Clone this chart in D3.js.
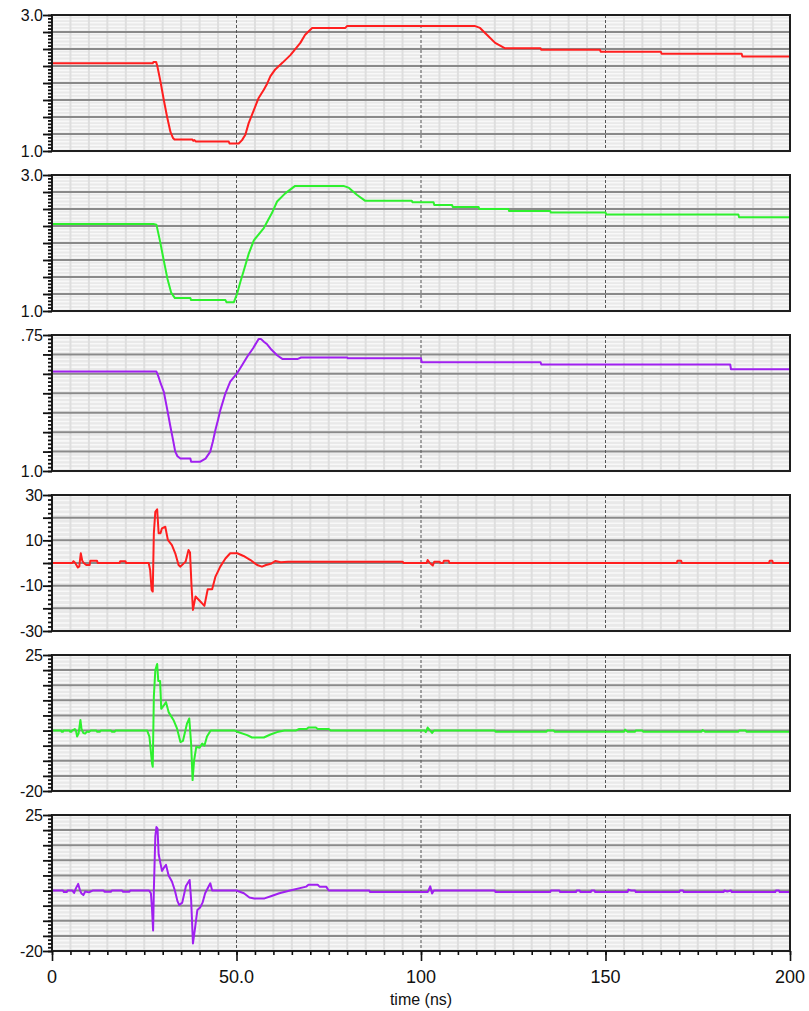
<!DOCTYPE html>
<html><head><meta charset="utf-8">
<script src="https://cdn.jsdelivr.net/npm/d3@7"></script>
<style>html,body{margin:0;padding:0;background:#fff;}svg{display:block;}</style>
</head><body>
<svg id="chart" width="809" height="1011"></svg>
<script>
// ---------- DATA ----------
const timeTicks = [0, 50, 100, 150, 200];
const timeTickLabels = ["0", "50.0", "100", "150", "200"];
const xAxisTitle = "time (ns)";

const panel1Red = [[0,2.29],[27.3,2.29],[27.5,2.31],[28.2,2.31],[28.5,2.26],[29.4,2.02],[30.3,1.75],[31.2,1.50],[32.1,1.28],[32.8,1.19],[33.2,1.17],[38.0,1.17],[38.3,1.15],[38.6,1.16],[39,1.14],[47.9,1.14],[48.1,1.11],[50.6,1.11],[51.5,1.16],[52.4,1.24],[53.3,1.41],[54.7,1.60],[56.0,1.78],[57.4,1.90],[58.3,1.99],[59.2,2.10],[60.5,2.20],[62.5,2.30],[64.6,2.41],[67.3,2.59],[68.6,2.71],[70.5,2.81],[79.5,2.81],[80,2.84],[114.5,2.84],[116,2.81],[118.2,2.69],[120.1,2.59],[122.8,2.51],[132.4,2.51],[132.6,2.49],[148.5,2.49],[148.7,2.46],[165,2.46],[165.2,2.43],[186.9,2.43],[187.1,2.39],[200,2.39]];

const panel2Green = [[0,2.28],[27.5,2.28],[28.3,2.27],[29.3,2.02],[30.3,1.74],[31.3,1.47],[32.3,1.27],[33.3,1.19],[37.5,1.19],[37.7,1.16],[47.0,1.16],[47.3,1.13],[49.3,1.13],[50.2,1.26],[51.0,1.42],[52.0,1.60],[53.3,1.84],[54.7,2.04],[57.4,2.22],[58.5,2.33],[59.6,2.44],[61.0,2.61],[63.2,2.73],[65.9,2.84],[79,2.84],[80.5,2.81],[82.6,2.71],[84.9,2.62],[97.5,2.62],[97.7,2.60],[103.4,2.60],[103.6,2.56],[108.4,2.56],[108.6,2.53],[115.6,2.53],[115.8,2.50],[123.7,2.50],[123.9,2.47],[135,2.47],[135.2,2.45],[150,2.45],[150.2,2.42],[186,2.42],[186.2,2.38],[200,2.38]];

const panel3Purple = [[0,2.28],[28.3,2.28],[28.8,2.22],[29.5,2.12],[30.3,2.02],[31.2,1.80],[32.1,1.57],[32.8,1.40],[33.4,1.25],[34.0,1.19],[34.8,1.16],[37.5,1.16],[37.7,1.12],[40.2,1.12],[41.6,1.16],[42.9,1.25],[43.6,1.38],[44.3,1.53],[45.0,1.66],[45.6,1.78],[47.0,2.0],[48.3,2.15],[50.2,2.26],[51.5,2.36],[52.9,2.47],[54.5,2.58],[56.0,2.70],[56.6,2.70],[57.5,2.66],[58.3,2.63],[59.5,2.56],[61.0,2.49],[62.5,2.44],[66.5,2.44],[67.5,2.46],[80,2.46],[80.2,2.45],[100,2.45],[100.2,2.40],[132.4,2.40],[132.6,2.37],[183.8,2.37],[184,2.31],[200,2.31]];

const panel4Red = [[0,0],[5.5,0],[5.8,0.8],[6.3,0],[7.0,-2],[7.4,-1.5],[7.8,4.3],[8.2,1],[8.6,0],[9.3,-0.9],[10.2,-0.9],[10.4,1],[12.2,1],[12.4,0],[18.3,0],[18.5,0.8],[19.9,0.8],[20.1,0],[26.2,0],[26.6,-3.1],[27.0,-11.9],[27.3,-12.6],[27.6,13.1],[28.0,22.6],[28.5,23.7],[28.9,13.1],[29.4,13.1],[29.8,15.3],[30.7,16.0],[31.4,10.2],[32.5,7.9],[33.4,4.3],[34.3,-0.9],[34.8,-1.6],[36.2,0.6],[37.0,5.7],[37.4,4.6],[37.8,-9.7],[38.2,-20.7],[38.9,-14.8],[40.2,-17],[41.3,-18.9],[42.2,-11.6],[43.4,-11.6],[44.3,-6],[45.6,-1.6],[47.0,2],[48.3,4.3],[50.2,4.3],[51.9,3.1],[53.8,1.3],[55.6,-0.9],[56.9,-1.6],[58.0,-0.9],[59.5,-0.2],[60.5,0.9],[62,0.3],[64,0.6],[95,0.6],[95.3,0],[101.5,0],[101.8,1.3],[102.4,0],[103.2,-1.1],[103.6,0.6],[105,0.6],[105.3,0],[106,0],[106.2,1],[107.5,1],[107.7,0],[169.3,0],[169.5,1],[170.5,1],[170.7,0],[194.3,0],[194.5,1],[195.2,1],[195.4,0],[200,0]];

const panel5Green = [[0,0],[2.5,0],[2.6,-0.4],[3,-0.4],[3.1,0],[4.8,0],[4.9,-0.4],[5.3,-0.4],[5.4,0],[6.2,0.5],[6.5,0],[6.8,-2],[7.2,-1],[7.7,3.5],[8,0.5],[8.5,-0.8],[9,-1],[9.5,-0.3],[10,-0.5],[10.5,0],[12,0],[12.2,-0.4],[13,-0.4],[13.2,0],[16,0],[16.2,-0.4],[17,-0.4],[17.2,0],[25.8,0],[26.4,-2],[27.1,-10.8],[27.3,-12],[27.6,11.2],[28.0,20],[28.5,22],[28.8,16.4],[29.3,16.4],[29.6,7.2],[30.3,8.3],[30.9,9.4],[31.6,6.1],[33,3.3],[33.9,0.6],[34.8,-3.8],[35.5,-3.4],[36.6,2.4],[37.2,4],[37.7,-4.3],[38.1,-16.4],[38.5,-10],[39.1,-5.4],[40,-5.7],[40.7,-4.3],[41.3,-5],[42,-2],[43,0],[49.5,0],[50,-0.3],[52.9,-1.5],[54.2,-2.3],[57.4,-2.3],[59.2,-1.3],[61,-0.5],[63,0],[66,0],[67,0.5],[69,0.5],[69.5,1],[71.5,1],[72,0.5],[75,0.5],[75.5,0],[101,0],[101.3,-0.5],[101.8,1],[102.5,0],[103,-0.8],[103.5,0],[120,0],[120.2,-0.4],[134,-0.4],[134.2,0],[136,0],[136.2,-0.4],[155,-0.4],[155.3,0.3],[156,-0.4],[158,-0.4],[158.2,0],[160,0],[160.2,-0.4],[176,-0.4],[176.3,0.2],[177,-0.4],[186,-0.4],[186.2,0],[188,0],[188.2,-0.4],[200,-0.4]];

const panel6Purple = [[0,0],[3,0],[3.2,-0.5],[4,-0.5],[4.2,0],[5.5,0],[6,-0.8],[6.5,0.8],[7.1,2.2],[7.6,0],[8,-1],[8.5,-1.5],[9,-0.3],[10,-0.6],[11,0],[14,0],[14.2,-0.4],[16,-0.4],[16.2,0],[19,0],[19.2,-0.4],[21,-0.4],[21.2,0],[26.3,0],[26.8,-0.9],[27.1,-6],[27.4,-13.2],[27.6,0],[28,18],[28.3,21],[28.6,20.5],[28.9,12],[29.4,9],[29.8,6.5],[30.3,7.5],[30.9,8.5],[31.6,5],[32.5,3],[33.3,0],[34,-3.5],[34.5,-4.8],[35.3,-4],[36.3,1.5],[37.3,3.5],[37.7,-3],[38.2,-17.5],[38.7,-13],[39.4,-6.4],[40.2,-5.5],[40.8,-4],[41.5,-0.9],[42.3,1],[42.9,2.4],[43.4,0],[50,0],[52,-0.9],[53.5,-2.3],[54.8,-2.6],[57.6,-2.6],[59.5,-1.8],[61.6,-0.9],[64.5,0],[68.9,1.3],[69.5,1.9],[72,1.9],[72.5,1.3],[74.3,1.3],[75,0],[86,0],[86.2,-0.5],[101.8,-0.5],[102,0],[102.5,1.4],[103,-1],[103.5,0],[120,0],[120.2,-0.5],[135,-0.5],[135.2,0],[137.5,0],[137.7,-0.5],[142,-0.5],[142.2,0],[143,0],[143.2,-0.5],[146,-0.5],[146.2,0],[147,0],[147.2,-0.5],[156,-0.5],[156.2,0.3],[157,0],[158,0],[158.2,-0.5],[170,-0.5],[170.2,0],[171,0],[171.2,-0.5],[182,-0.5],[182.2,0],[183,-0.3],[184,0],[184.2,-0.5],[196,-0.5],[196.2,0],[197,0],[197.2,-0.5],[200,-0.5]];

const panelDomains = [[1,3],[1,3],[1,2.75],[-30,30],[-20,25],[-20,25]];
const panelMajorSteps = [0.25,0.25,0.25,10,5,5];
const panelMinorSteps = [0.05,0.05,0.05,2,1.25,1.25];
const panelTickValues = [[3,1],[3,1],[2.75,1],[30,10,-10,-30],[25,-20],[25,-20]];
const panelTickLabels = [["3.0","1.0"],["3.0","1.0"],[".75","1.0"],["30","10","-10","-30"],["25","-20"],["25","-20"]];
const panelSeries = [panel1Red, panel2Green, panel3Purple, panel4Red, panel5Green, panel6Purple];

// ---------- LAYOUT / STYLE ----------
const colors = ["#ff1f1f","#2ef02e","#a020f0","#ff1f1f","#2ef02e","#a020f0"];
const left = 52, right = 790, top0 = 15, pitch = 160, ph = 136;
const font = "'Liberation Sans', Arial, sans-serif";

const svg = d3.select("#chart");
const x = d3.scaleLinear().domain([0,200]).range([left,right]);

function stepsOf(lo, hi, step){
  const n = Math.round((hi-lo)/step);
  return d3.range(n+1).map(i => lo + i*step);
}

const defs = svg.append("defs");

panelSeries.forEach((series, i) => {
  const top = top0 + i*pitch, bot = top + ph;
  const [lo, hi] = panelDomains[i];
  const y = d3.scaleLinear().domain([lo,hi]).range([bot, top]);
  const g = svg.append("g");

  defs.append("clipPath").attr("id","clip"+i)
    .append("rect").attr("x",left).attr("y",top).attr("width",right-left).attr("height",ph);

  g.append("rect").attr("x",left).attr("y",top).attr("width",right-left).attr("height",ph)
    .attr("fill","#e9e9e9");

  // minor horizontal stripes (light)
  g.selectAll(".hmin").data(stepsOf(lo,hi,panelMinorSteps[i])).join("line")
    .attr("x1",left).attr("x2",right)
    .attr("y1",d=>y(d)+1).attr("y2",d=>y(d)+1)
    .attr("stroke","#f8f8f8").attr("stroke-width",1.6);

  // minor vertical lines every 5 ns
  g.selectAll(".vmin").data(d3.range(5,200,5).filter(t=>t%50!==0)).join("line")
    .attr("x1",d=>x(d)).attr("x2",d=>x(d))
    .attr("y1",top).attr("y2",bot)
    .attr("stroke","#dedede").attr("stroke-width",2);

  // major horizontal lines
  const majors = stepsOf(lo,hi,panelMajorSteps[i]);
  g.selectAll(".hmaj").data(majors.slice(1,-1)).join("line")
    .attr("x1",left).attr("x2",right)
    .attr("y1",d=>y(d)).attr("y2",d=>y(d))
    .attr("stroke","#8a8a8a").attr("stroke-width",2);

  // major vertical dashed lines
  g.selectAll(".vmaj").data(timeTicks.slice(1,-1)).join("line")
    .attr("x1",d=>x(d)).attr("x2",d=>x(d))
    .attr("y1",top).attr("y2",bot)
    .attr("stroke","#555").attr("stroke-width",1).attr("stroke-dasharray","3,2");

  // data line
  const line = d3.line().x(d=>x(d[0])).y(d=>y(d[1]));
  g.append("path").datum(series).attr("d",line)
    .attr("fill","none").attr("stroke",colors[i]).attr("stroke-width",2)
    .attr("stroke-linejoin","round")
    .attr("clip-path","url(#clip"+i+")");

  // border
  g.append("rect").attr("x",left).attr("y",top).attr("width",right-left).attr("height",ph)
    .attr("fill","none").attr("stroke","#1e1e1e").attr("stroke-width",2);

  // y ticks
  const yAxisMinor = d3.axisLeft(y).tickValues(stepsOf(lo,hi,panelMinorSteps[i])).tickSize(4).tickFormat("");
  const yAxisMajor = d3.axisLeft(y).tickValues(majors).tickSize(9).tickFormat("");
  [yAxisMinor, yAxisMajor].forEach(ax => {
    const a = g.append("g").attr("transform",`translate(${left},0)`).call(ax);
    a.select(".domain").remove();
    a.selectAll(".tick line").attr("stroke","#111").attr("stroke-width",1.8);
  });

  // y labels
  g.selectAll(".ylab").data(panelTickValues[i]).join("text")
    .attr("x",43).attr("y",d=>y(d)).attr("dy","0.36em")
    .attr("text-anchor","end")
    .attr("font-family",font).attr("font-size",16).attr("fill","#111")
    .text((d,k)=>panelTickLabels[i][k]);

  // x axis on bottom panel only
  if (i === panelSeries.length-1) {
    const xMinor = d3.axisBottom(x).tickValues(d3.range(0,201,5)).tickSize(4).tickFormat("");
    const xMajor = d3.axisBottom(x).tickValues(timeTicks).tickSize(10).tickFormat("");
    [xMinor, xMajor].forEach(ax => {
      const a = g.append("g").attr("transform",`translate(0,${bot})`).call(ax);
      a.select(".domain").remove();
      a.selectAll(".tick line").attr("stroke","#111").attr("stroke-width",1.6);
    });
    g.selectAll(".xlab").data(timeTicks).join("text")
      .attr("x",d=>x(d)).attr("y",bot+32)
      .attr("text-anchor","middle")
      .attr("font-family",font).attr("font-size",18).attr("fill","#111")
      .text((d,k)=>timeTickLabels[k]);
    g.append("text").attr("x",x(100)).attr("y",bot+54)
      .attr("text-anchor","middle")
      .attr("font-family",font).attr("font-size",16).attr("fill","#111")
      .text(xAxisTitle);
  }
});
</script>
</body></html>
